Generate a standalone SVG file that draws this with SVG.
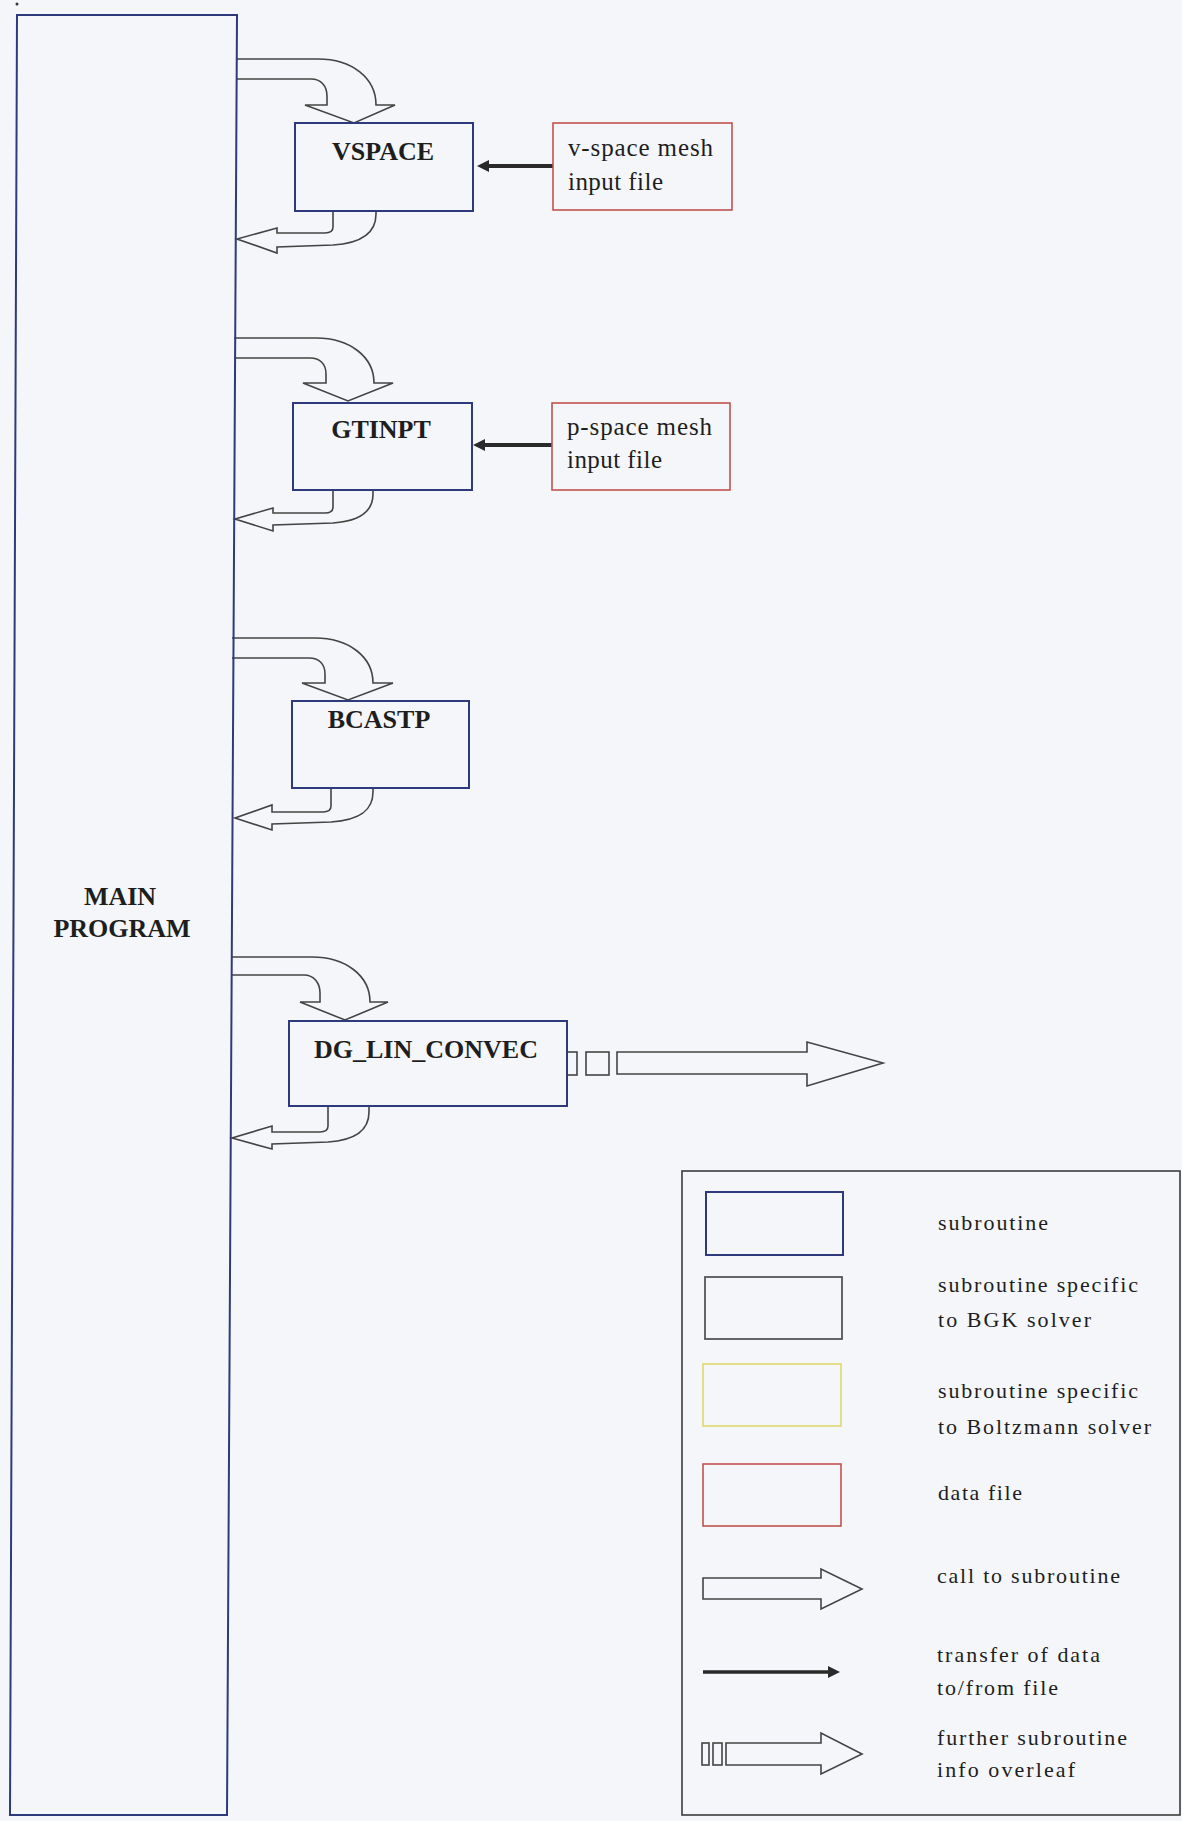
<svg xmlns="http://www.w3.org/2000/svg" width="1182" height="1821" viewBox="0 0 1182 1821">
  <style>
    .bg { fill: #f4f6f9; }
    .sub { fill: none; stroke: #2f3a7c; stroke-width: 2; }
    .file { fill: none; stroke: #c2534f; stroke-width: 1.6; }
    .bgk { fill: none; stroke: #555; stroke-width: 1.8; }
    .boltz { fill: none; stroke: #e2dc7a; stroke-width: 1.8; }
    .frame { fill: none; stroke: #3c3c3c; stroke-width: 1.6; }
    .call { fill: none; stroke: #444; stroke-width: 1.6; stroke-linejoin: miter; }
    .data { stroke: #2a2a2a; stroke-width: 4; }
    .head { fill: #2a2a2a; }
    .lbl { font-family: "Liberation Serif", "Times New Roman", serif; font-weight: bold; font-size: 26px; fill: #1e1e1e; text-anchor: middle; }
    .ftxt { font-family: "Liberation Serif", "Times New Roman", serif; font-size: 25px; fill: #1e1e1e; }
    .ltxt { font-family: "Liberation Serif", "Times New Roman", serif; font-size: 22px; fill: #1e1e1e; }
  </style>

  <rect class="bg" x="0" y="0" width="1182" height="1821"/>
  <circle cx="17" cy="4" r="1.5" fill="#333"/>

  <!-- connectors -->
  <g id="connectors">
    <!-- calls into subroutines -->
    <path class="call" d="M237,59 H318 C352,59 376,78 376,105 H395 L354,123 L305,105 H327 V96 C327,86 321,79 311,79 H237"/>
    <path class="call" d="M234,338 H316 C350,338 374,357 374,383 H393 L348,401 L303,383 H326 V374 C326,364 320,358 310,358 H234"/>
    <path class="call" d="M232,638 H315 C349,638 373,657 373,683 H393 L348,700 L302,683 H325 V674 C325,664 319,658 309,658 H232"/>
    <path class="call" d="M232,957 H312 C346,957 370,976 370,1002 H388 L345,1020 L300,1002 H320 V993 C320,983 314,975 304,975 H232"/>

    <!-- returns to main program -->
    <path class="call" d="M333,211 V227 Q333,233 325,233 H277 V228 L237,239 L277,253 V247 L333,245 C365,243 376,230 376,214 V211"/>
    <path class="call" d="M333,490 V507 Q333,513 325,513 H273 V508 L235,519 L273,531 V525 L333,523 C362,521 373,510 373,494 V490"/>
    <path class="call" d="M331,788 V806 Q331,812 323,812 H272 V805 L235,818 L272,830 V824 L331,822 C362,820 373,809 373,792 V788"/>
    <path class="call" d="M328,1106 V1126 Q328,1132 320,1132 H272 V1126 L232,1138 L272,1149 V1144 L328,1142 C358,1140 369,1129 369,1112 V1106"/>

    <!-- file reads -->
    <line class="data" x1="553" y1="166" x2="486" y2="166"/>
    <polygon class="head" points="477,166 489,160 489,172"/>
    <line class="data" x1="552" y1="445" x2="484" y2="445"/>
    <polygon class="head" points="473,445 485,439 485,451"/>

    <!-- further subroutines -->
    <rect class="call" x="567" y="1052" width="10" height="23"/>
    <rect class="call" x="586" y="1052" width="23" height="23"/>
    <path class="call" d="M617,1052 H807 V1042 L883,1063 L807,1086 V1074 H617 Z"/>
  </g>

  <!-- main program -->
  <g id="main-program">
    <path class="sub" d="M17,15 L237,15 L227,1815 L10,1815 Z"/>
    <text class="lbl" x="120" y="905">MAIN</text>
    <text class="lbl" x="122" y="937">PROGRAM</text>
  </g>

  <!-- subroutines -->
  <g id="vspace">
    <rect class="sub" x="295" y="123" width="178" height="88"/>
    <text class="lbl" x="383" y="160">VSPACE</text>
  </g>
  <g id="gtinpt">
    <rect class="sub" x="293" y="403" width="179" height="87"/>
    <text class="lbl" x="381" y="438">GTINPT</text>
  </g>
  <g id="bcastp">
    <rect class="sub" x="292" y="701" width="177" height="87"/>
    <text class="lbl" x="379" y="728">BCASTP</text>
  </g>
  <g id="dg-lin-convec">
    <rect class="sub" x="289" y="1021" width="278" height="85"/>
    <text class="lbl" x="426" y="1058">DG_LIN_CONVEC</text>
  </g>

  <!-- data files -->
  <g id="vspace-file">
    <rect class="file" x="553" y="123" width="179" height="87"/>
    <text class="ftxt" x="568" y="156" textLength="145" lengthAdjust="spacing">v-space mesh</text>
    <text class="ftxt" x="568" y="190" textLength="95" lengthAdjust="spacing">input file</text>
  </g>
  <g id="pspace-file">
    <rect class="file" x="552" y="403" width="178" height="87"/>
    <text class="ftxt" x="567" y="435" textLength="145" lengthAdjust="spacing">p-space mesh</text>
    <text class="ftxt" x="567" y="468" textLength="95" lengthAdjust="spacing">input file</text>
  </g>

  <!-- key -->
  <g id="legend">
    <rect class="frame" x="682" y="1171" width="498" height="644"/>
    <rect class="sub" x="706" y="1192" width="137" height="63"/>
    <text class="ltxt" x="938" y="1230" textLength="110" lengthAdjust="spacing">subroutine</text>
    <rect class="bgk" x="705" y="1277" width="137" height="62"/>
    <text class="ltxt" x="938" y="1292" textLength="200" lengthAdjust="spacing">subroutine specific</text>
    <text class="ltxt" x="938" y="1327" textLength="153" lengthAdjust="spacing">to BGK solver</text>
    <rect class="boltz" x="703" y="1364" width="138" height="62"/>
    <text class="ltxt" x="938" y="1398" textLength="200" lengthAdjust="spacing">subroutine specific</text>
    <text class="ltxt" x="938" y="1434" textLength="213" lengthAdjust="spacing">to Boltzmann solver</text>
    <rect class="file" x="703" y="1464" width="138" height="62"/>
    <text class="ltxt" x="938" y="1500" textLength="84" lengthAdjust="spacing">data file</text>
    <path class="call" d="M703,1578 H821 V1569 L862,1589 L821,1609 V1599 H703 Z"/>
    <text class="ltxt" x="937" y="1583" textLength="183" lengthAdjust="spacing">call to subroutine</text>
    <line x1="703" y1="1672" x2="830" y2="1672" stroke="#2a2a2a" stroke-width="3.5"/>
    <polygon class="head" points="840,1672 828,1666 828,1678"/>
    <text class="ltxt" x="937" y="1662" textLength="163" lengthAdjust="spacing">transfer of data</text>
    <text class="ltxt" x="937" y="1695" textLength="121" lengthAdjust="spacing">to/from file</text>
    <rect class="call" x="702" y="1743" width="7" height="22"/>
    <rect class="call" x="713" y="1743" width="9" height="22"/>
    <path class="call" d="M726,1743 H821 V1733 L862,1754 L821,1774 V1765 H726 Z"/>
    <text class="ltxt" x="937" y="1745" textLength="190" lengthAdjust="spacing">further subroutine</text>
    <text class="ltxt" x="937" y="1777" textLength="138" lengthAdjust="spacing">info overleaf</text>
  </g>
</svg>
